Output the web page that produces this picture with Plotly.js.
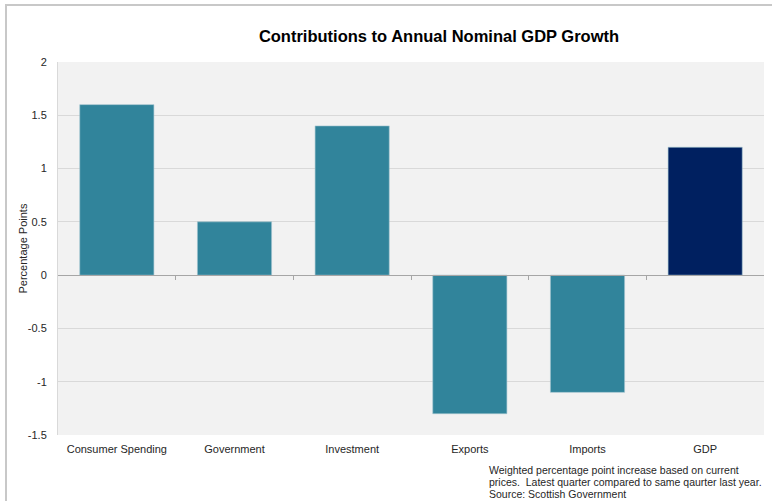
<!DOCTYPE html>
<html><head><meta charset="utf-8">
<script src="https://cdn.plot.ly/plotly-3.0.1.min.js"></script>
<style>html,body{margin:0;padding:0;background:#fff;overflow:hidden}
#frame{position:absolute;left:5px;top:4px;width:780px;height:510px;border:2px solid #c8c8c8;pointer-events:none}
</style></head>
<body>
<div id="chart" style="width:772px;height:501px;"></div>
<div id="frame"></div>
<script>
const categories = ["Consumer Spending", "Government", "Investment", "Exports", "Imports", "GDP"];
const contributions = [1.6, 0.5, 1.4, -1.3, -1.1, 1.2];
const barColors = ["#31849b", "#31849b", "#31849b", "#31849b", "#31849b", "#002060"];
const yTicks = [-1.5, -1, -0.5, 0, 0.5, 1, 1.5, 2];
const boundaries = [0.5, 1.5, 2.5, 3.5, 4.5];
const noteLines = [
  "Weighted percentage point increase based on current",
  "prices.  Latest quarter compared to same qaurter last year.",
  "Source: Scottish Government"
];

const W = 772, H = 501, L = 58, R = 8, T = 62, B = 66;
const pw = W - L - R, ph = H - T - B;

const data = [{
  type: "bar",
  x: categories,
  y: contributions,
  width: 0.63,
  marker: {color: barColors, line: {color: "#9fc3cf", width: 0.6}},
  hoverinfo: "x+y"
}, {
  type: "scatter", mode: "markers", xaxis: "x2", yaxis: "y",
  x: boundaries, y: boundaries.map(() => 0), marker: {opacity: 0}, hoverinfo: "skip", showlegend: false
}];

const annotations = noteLines.map((t, i) => ({
  text: t, xref: "paper", yref: "paper",
  x: (487 - L) / pw, y: (H - B - (470 + 12 * i)) / ph,
  xanchor: "left", yanchor: "middle", align: "left", showarrow: false,
  font: {size: 10.5, color: "#262626"}
}));
annotations.push({
  text: "Percentage Points", textangle: -90, xref: "paper", yref: "paper",
  x: (22 - L) / pw, y: 0.5, xanchor: "center", yanchor: "middle", showarrow: false,
  font: {size: 11, color: "#262626"}
});

const layout = {
  width: W, height: H,
  margin: {l: L, r: R, t: T, b: B},
  paper_bgcolor: "#ffffff",
  plot_bgcolor: "#f2f2f2",
  showlegend: false,
  font: {family: "Liberation Sans, Arial, sans-serif", size: 11, color: "#262626"},
  title: {text: "<b>Contributions to Annual Nominal GDP Growth</b>", x: 439 / W, xref: "container", xanchor: "center", y: 0.928, yref: "container", yanchor: "middle",
    font: {family: "Liberation Sans, Arial, sans-serif", size: 16.5, color: "#000000"}},
  xaxis: {type: "category", range: [-0.5, 5.5], showgrid: false, zeroline: false, showline: false, ticks: "",
    ticklabelstandoff: 6, tickfont: {size: 11, color: "#262626"}},
  xaxis2: {overlaying: "x", anchor: "free", position: 1.5 / 3.5, range: [-0.5, 5.5], showline: true, linecolor: "#a6a6a6", linewidth: 1,
    ticks: "outside", ticklen: 4, tickcolor: "#a6a6a6", tickvals: boundaries, showticklabels: false, showgrid: false, zeroline: false},
  yaxis: {range: [-1.5, 2], tickvals: yTicks, ticktext: yTicks.map(String), showgrid: true, gridcolor: "#d9d9d9", gridwidth: 1,
    zeroline: false, showline: true, linecolor: "#d9d9d9", ticks: "", ticklabelstandoff: 8,
    tickfont: {size: 11, color: "#262626"}},
  annotations: annotations
};
Plotly.newPlot("chart", data, layout, {displayModeBar: false, staticPlot: true});
</script>
</body></html>
